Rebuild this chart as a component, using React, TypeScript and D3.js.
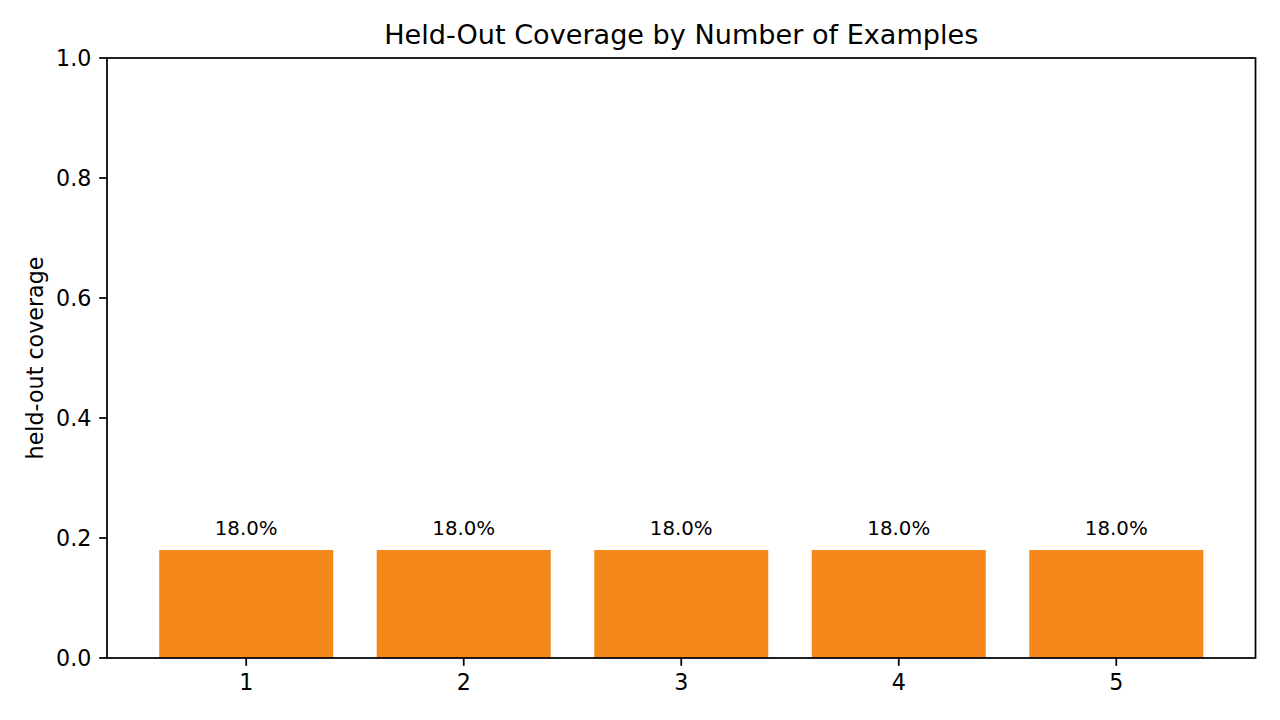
import React, { useEffect } from "react";
import * as d3 from "d3";

const categories = [1, 2, 3, 4, 5];
const coverage = [0.18, 0.18, 0.18, 0.18, 0.18];
const yTicks = [0, 0.2, 0.4, 0.6, 0.8, 1.0];
const title = "Held-Out Coverage by Number of Examples";
const yLabel = "held-out coverage";

const W = 1280;
const H = 720;
const left = 107;
const right = 1255.5;
const top = 58;
const bottom = 658;
const barWidth = 0.8;
const FONT = "DejaVu Sans, sans-serif";
const tickFont = 22.2;
const labelFont = 19.8;
const titleFont = 27.1;
const tickLen = 7.8;
const tickPad = 7.8;
const lw = 1.75;

export default function App() {
  useEffect(() => {
    document.body.style.margin = "0";
  }, []);

  const x = d3.scaleLinear().domain([0.36, 5.64]).range([left, right]);
  const y = d3.scaleLinear().domain([0, 1]).range([bottom, top]);
  const fmt = d3.format(".1f");

  return (
    <svg
      width={W}
      height={H}
      style={{ position: "absolute", left: 0, top: 0, background: "#fff" }}
      fontFamily={FONT}
    >
      <rect x={0} y={0} width={W} height={H} fill="#fff" />
      {categories.map((c, i) => {
        const x0 = x(c - barWidth / 2);
        const x1 = x(c + barWidth / 2);
        return (
          <g key={c}>
            <rect
              x={x0}
              y={y(coverage[i])}
              width={x1 - x0}
              height={y(0) - y(coverage[i])}
              fill="#f5881b"
            />
            <text
              x={x(c)}
              y={y(coverage[i]) - 15}
              textAnchor="middle"
              fontSize={labelFont}
              fill="#000"
            >
              {(coverage[i] * 100).toFixed(1) + "%"}
            </text>
          </g>
        );
      })}
      <rect
        x={left}
        y={top}
        width={right - left}
        height={bottom - top}
        fill="none"
        stroke="#000"
        strokeWidth={lw}
      />
      {yTicks.map((t) => (
        <g key={t}>
          <line x1={left - tickLen} x2={left} y1={y(t)} y2={y(t)} stroke="#000" strokeWidth={lw} />
          <text
            x={left - tickLen - tickPad}
            y={y(t)}
            dy="0.36em"
            textAnchor="end"
            fontSize={tickFont}
            fill="#000"
          >
            {fmt(t)}
          </text>
        </g>
      ))}
      {categories.map((c) => (
        <g key={"x" + c}>
          <line x1={x(c)} x2={x(c)} y1={bottom} y2={bottom + tickLen} stroke="#000" strokeWidth={lw} />
          <text x={x(c)} y={690} textAnchor="middle" fontSize={tickFont} fill="#000">
            {String(c)}
          </text>
        </g>
      ))}
      <text x={(left + right) / 2} y={43.5} textAnchor="middle" fontSize={titleFont} fill="#000">
        {title}
      </text>
      <text
        transform={`translate(43,${(top + bottom) / 2}) rotate(-90)`}
        textAnchor="middle"
        fontSize={tickFont}
        fill="#000"
      >
        {yLabel}
      </text>
    </svg>
  );
}
